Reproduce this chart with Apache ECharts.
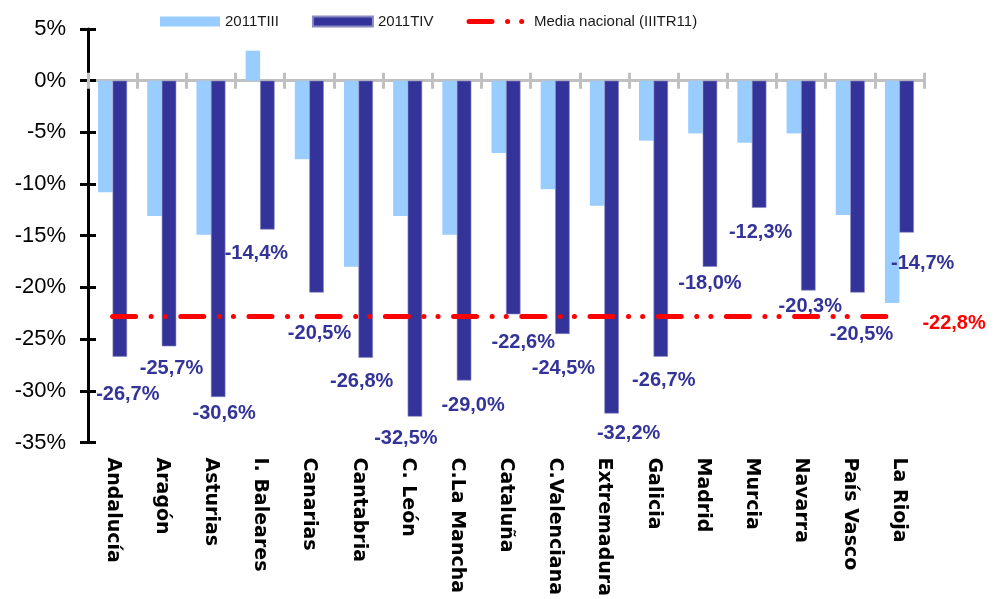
<!DOCTYPE html>
<html>
<head>
<meta charset="utf-8">
<script src="https://cdn.jsdelivr.net/npm/echarts@6/dist/echarts.min.js"></script>
<style>
html,body{margin:0;padding:0;background:#fff;}
#chart{width:995px;height:599px;}
</style>
</head>
<body>
<div id="chart"></div>
<script>
const categories = ['Andalucía','Aragón','Asturias','I. Baleares','Canarias','Cantabria','C. León','C.La Mancha','Cataluña','C.Valenciana','Extremadura','Galicia','Madrid','Murcia','Navarra','País Vasco','La Rioja'];
const serie2011TIII = [-10.8, -13.1, -14.9, 2.9, -7.6, -18.0, -13.1, -14.9, -7.0, -10.5, -12.1, -5.8, -5.1, -6.0, -5.1, -13.0, -21.5];
const serie2011TIV = [-26.7, -25.7, -30.6, -14.4, -20.5, -26.8, -32.5, -29.0, -22.6, -24.5, -32.2, -26.7, -18.0, -12.3, -20.3, -20.5, -14.7];
const mediaNacional = -22.8;
const yTicks = {min: -35, max: 5, step: 5};

// label placement tweaks (layout only)
const labelShift = [[8,28],[2.5,12],[6,6],[-11,14],[3,31],[-4,14],[-9,12],[9,15],[10,18],[1,25],[17,10],[3,14],[0,7],[1.5,15],[2,6],[4,32],[16,21]];

const fmt = v => v.toFixed(1).replace('.', ',') + '%';
const dashPattern = [23, 15.5, 0.1, 14, 0.1, 15.5];

const chart = echarts.init(document.getElementById('chart'));
const catAxisBase = {type: 'category', data: categories, gridIndex: 0};
chart.setOption({
  animation: false,
  backgroundColor: '#ffffff',
  grid: {left: 88, right: 71, top: 29, bottom: 151, containLabel: false},
  legend: {
    left: 155, top: 9, itemWidth: 60, itemHeight: 10, itemGap: 33,
    textStyle: {fontFamily: 'Liberation Sans', fontSize: 15, color: '#1a1a1a'},
    data: [
      {name: '2011TIII', icon: 'rect'},
      {name: '2011TIV', icon: 'rect'},
      {name: 'Media nacional (IIITR11)',
       lineStyle: {color: '#ff0000', width: 5, type: dashPattern, cap: 'round'},
       itemStyle: {color: 'rgba(0,0,0,0)', opacity: 0, borderWidth: 0}}
    ]
  },
  xAxis: [
    Object.assign({}, catAxisBase, {
      position: 'bottom',
      axisLine: {show: false, onZero: false},
      axisTick: {show: false},
      axisLabel: {rotate: -90, margin: 15, interval: 0, color: '#000', fontFamily: 'DejaVu Sans', fontWeight: 'bold', fontSize: 19}
    }),
    Object.assign({}, catAxisBase, {
      position: 'bottom',
      axisLine: {show: true, onZero: true, lineStyle: {color: '#c0c0c0', width: 3}},
      axisTick: {show: true, inside: false, length: 8, interval: 0, lineStyle: {color: '#c0c0c0', width: 3}},
      axisLabel: {show: false}
    }),
    Object.assign({}, catAxisBase, {
      position: 'top',
      axisLine: {show: false, onZero: true},
      axisTick: {show: true, inside: false, length: 8, interval: 0, lineStyle: {color: '#c0c0c0', width: 3}},
      axisLabel: {show: false}
    })
  ],
  yAxis: [
    {
      type: 'value', min: yTicks.min, max: yTicks.max, interval: yTicks.step, position: 'left',
      axisLine: {show: true, lineStyle: {color: '#000', width: 3}},
      axisTick: {show: true, inside: false, length: 8, lineStyle: {color: '#000', width: 3}},
      splitLine: {show: false},
      axisLabel: {margin: 22, color: '#000', fontFamily: 'Liberation Sans', fontSize: 22, formatter: '{value}%'}
    },
    {
      type: 'value', min: yTicks.min, max: yTicks.max, interval: yTicks.step, position: 'left',
      axisLine: {show: false},
      axisTick: {show: true, inside: true, length: 8, lineStyle: {color: '#000', width: 3}},
      splitLine: {show: false},
      axisLabel: {show: false}
    }
  ],
  series: [
    {
      name: '2011TIII', type: 'bar', xAxisIndex: 0, yAxisIndex: 0,
      barWidth: 14.5, barGap: '0%',
      itemStyle: {color: '#99ccff'},
      data: serie2011TIII
    },
    {
      name: '2011TIV', type: 'bar', xAxisIndex: 0, yAxisIndex: 0,
      barWidth: 14.5, barGap: '0%',
      itemStyle: {color: '#333399', borderColor: '#8a8ac4', borderWidth: 0.6},
      label: {
        show: true, position: 'bottom', distance: 0,
        color: '#333399', fontFamily: 'Liberation Sans', fontWeight: 'bold', fontSize: 20,
        formatter: p => fmt(p.value)
      },
      data: serie2011TIV.map((v, i) => ({value: v, label: {offset: labelShift[i]}}))
    },
    {
      name: 'Media nacional (IIITR11)', type: 'line', xAxisIndex: 0, yAxisIndex: 0,
      symbol: 'none',
      lineStyle: {color: '#ff0000', width: 5, type: dashPattern, cap: 'round'},
      itemStyle: {color: '#ff0000'},
      data: [],
      markLine: {
        silent: true, symbol: ['none', 'none'],
        lineStyle: {color: '#ff0000', width: 5, type: dashPattern, cap: 'round'},
        label: {
          show: true, position: 'end', distance: 23,
          formatter: () => '{m|' + fmt(mediaNacional) + '}',
          rich: {
            m: {color: '#ff0000', fontFamily: 'Liberation Sans', fontWeight: 'bold', fontSize: 20, padding: [15, 0, 0, 0]}
          }
        },
        data: [[
          {coord: [categories[0], mediaNacional]},
          {coord: [categories[categories.length - 1], mediaNacional]}
        ]]
      }
    }
  ]
});
</script>
</body>
</html>
